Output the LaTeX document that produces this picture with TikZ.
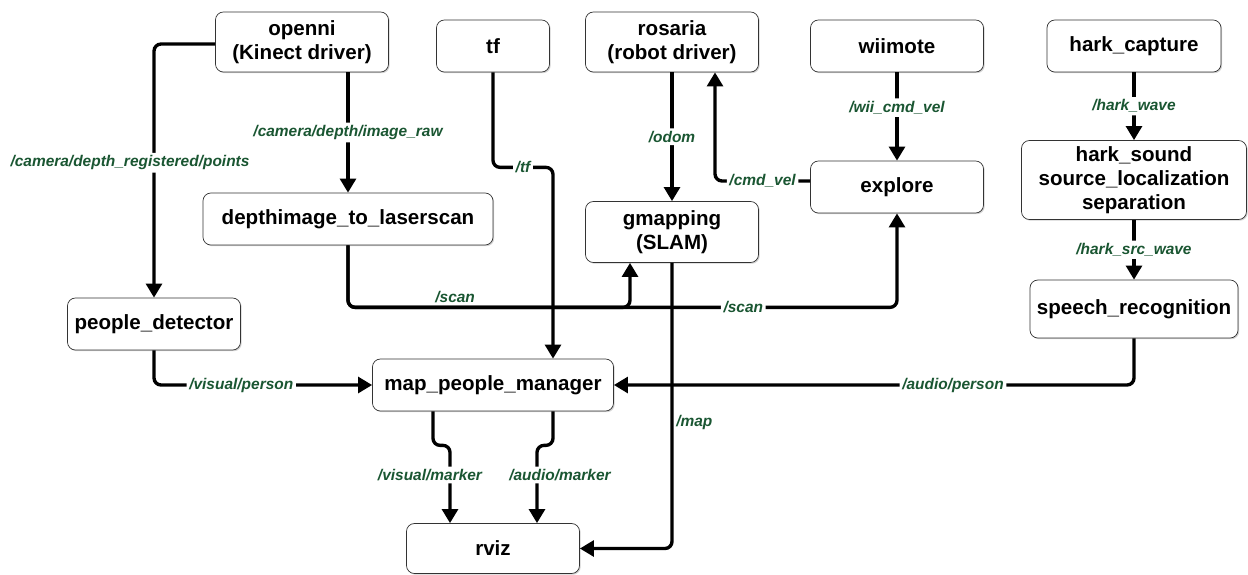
\documentclass[tikz,border=0pt]{standalone}
\usepackage{fontspec}
\setmainfont{Liberation Sans}
\usepackage{tikz}
\usetikzlibrary{calc,positioning,arrows.meta,shadows}
\definecolor{topicgreen}{HTML}{1A5632}
\tikzstyle{rosnode} = [rectangle, draw=black!80, fill=white, rounded corners=4.5pt,
                       align=center, font=\fontsize{11.7}{13.7}\selectfont\bfseries,
                       inner sep=2pt, minimum height=1.04cm, minimum width=3.46cm,
                       drop shadow={shadow xshift=0.7pt, shadow yshift=-0.7pt, opacity=0.35}]
\tikzstyle{ptr}   = [draw, line width=1.9pt, rounded corners=4pt,
                     -{Triangle[width=9pt,length=8pt]}]
\tikzstyle{topic} = [font=\fontsize{8.8}{10}\selectfont\bfseries\itshape,
                     text=topicgreen, fill=white, inner sep=1.5pt]

\begin{document}
\begin{tikzpicture}
		\useasboundingbox (0,0) rectangle (24.96,-11.48);
		% ros nodes
		\node[rosnode, minimum height=1.2cm] (openni) at (6.04,-0.84) {openni\\(Kinect driver)};
		\node[rosnode, minimum width=2.26cm] (tf) at (9.86,-0.92) {tf};
		\node[rosnode, minimum height=1.2cm] (rosaria) at (13.44,-0.84) {rosaria\\(robot driver)};
		\node[rosnode] (wiimote) at (17.94,-0.92) {wiimote};
		\node[rosnode, minimum width=3.48cm] (hcap) at (22.68,-0.92) {hark\_capture};
		\node[rosnode, minimum width=5.8cm] (depth) at (6.96,-4.38) {depthimage\_to\_laserscan};
		\node[rosnode, minimum height=1.22cm] (gmap) at (13.44,-4.64) {gmapping\\(SLAM)};
		\node[rosnode] (explore) at (17.94,-3.74) {explore};
		\node[rosnode, minimum width=4.5cm, minimum height=1.58cm] (hsound) at (22.68,-3.6)
			{hark\_sound\\source\_localization\\separation};
		\node[rosnode, minimum width=4.16cm, minimum height=1.16cm] (speech) at (22.68,-6.18) {speech\_recognition};
		\node[rosnode] (pdet) at (3.08,-6.48) {people\_detector};
		\node[rosnode, minimum width=4.82cm] (mpm) at (9.86,-7.7) {map\_people\_manager};
		\node[rosnode, minimum height=1.0cm] (rviz) at (9.86,-10.97) {rviz};

		% topics
		\draw[ptr] ([yshift=-0.04cm]openni.west) -| node[topic, pos=0.734, xshift=-0.48cm]{/camera/depth\_registered/points} (pdet.north);
		\draw[ptr] (openni.south -| depth.north) -- node[topic]{/camera/depth/image\_raw} (depth.north);
		\draw[ptr] (tf.south) -- ++(0,-1.9) -| node[topic, pos=0.25]{/tf} ([xshift=1.2cm]mpm.north);
		\draw[ptr] (rosaria.south) -- node[topic]{/odom} (gmap.north);
		\draw[ptr] ([yshift=0.12cm]explore.west) -| node[topic, pos=0.25]{/cmd\_vel} ([xshift=0.86cm]rosaria.south);
		\draw[ptr] (wiimote.south) -- node[topic, pos=0.4]{/wii\_cmd\_vel} (explore.north);
		\draw[ptr] (hcap.south) -- node[topic]{/hark\_wave} (hsound.north);
		\draw[ptr] (hsound.south) -- node[topic]{/hark\_src\_wave} (speech.north);
		\draw[ptr] (depth.south) -- ++(0,-1.24) -| node[topic, above, fill=none, pos=0.19]{/scan} ([xshift=-0.84cm]gmap.south);
		\draw[ptr] (depth.south) -- ++(0,-1.24) -| node[topic, pos=0.36]{/scan} (explore.south);
		\draw[ptr] (gmap.south) |- node[topic, right, fill=none, pos=0.28]{/map} (rviz.east);
		\draw[ptr] (pdet.south) |- node[topic, pos=0.70]{/visual/person} (mpm.west);
		\draw[ptr] (speech.south) |- node[topic, pos=0.674]{/audio/person} (mpm.east);
		\draw[ptr] ([xshift=-1.2cm]mpm.south) -- ++(0,-0.68) -| node[topic, pos=0.69, xshift=-0.4cm]{/visual/marker} ([xshift=-0.86cm]rviz.north);
		\draw[ptr] ([xshift=1.2cm]mpm.south) -- ++(0,-0.68) -| node[topic, pos=0.69, xshift=0.46cm]{/audio/marker} ([xshift=0.88cm]rviz.north);
\end{tikzpicture}
\end{document}
